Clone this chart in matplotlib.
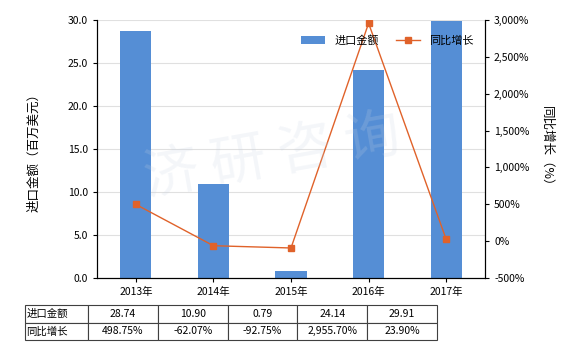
import matplotlib
matplotlib.use("Agg")
import matplotlib.pyplot as plt
import numpy as np

plt.rcParams['font.family'] = ['Noto Sans CJK SC', 'DejaVu Sans']

# data
years = ['2013年', '2014年', '2015年', '2016年', '2017年']
imports = [28.74, 10.90, 0.79, 24.14, 29.91]
growth = [498.75, -62.07, -92.75, 2955.70, 23.90]
imports_txt = ['28.74', '10.90', '0.79', '24.14', '29.91']
growth_txt = ['498.75%', '-62.07%', '-92.75%', '2,955.70%', '23.90%']

bar_color = '#558ED5'
line_color = '#E0622A'

fig = plt.figure(figsize=(5.8, 3.5), dpi=100)
ax = fig.add_axes([97/580, 72/350, 388/580, 258/350])
x = np.arange(len(years))

ax.bar(x, imports, width=0.4, color=bar_color, zorder=2, label='进口金额')
ax.set_xlim(-0.5, len(years) - 0.5)
ax.set_ylim(0, 30)
ax.set_yticks(np.arange(0, 30.1, 5))
ax.set_yticklabels(['%.1f' % v for v in np.arange(0, 30.1, 5)])
ax.set_xticks(x)
ax.set_xticklabels(years)
ax.grid(axis='y', color='#e0e0e0', linewidth=0.8, zorder=0)
ax.set_ylabel('进口金额（百万美元）', fontsize=9, labelpad=20)
ax.tick_params(labelsize=7.5, length=3)
ax.spines['top'].set_visible(False)

ax2 = ax.twinx()
ax2.plot(x, growth, color=line_color, marker='s', markersize=4, linewidth=1,
         label='同比增长', zorder=3)
ax2.set_ylim(-500, 3000)
ax2.set_yticks(np.arange(-500, 3001, 500))
ax2.set_yticklabels(['{:,}%'.format(int(v)) for v in np.arange(-500, 3001, 500)])
ax2.tick_params(labelsize=7.5, length=3)
ax2.spines['top'].set_visible(False)
ax2.set_ylabel('同比增长（%）', fontsize=9, rotation=270, labelpad=17)

# watermark
fig.text(0.47, 0.55, '济 研 咨 询', fontsize=40, color='#c8d4e4', alpha=0.2,
         ha='center', va='center', rotation=10, zorder=0)

h1, l1 = ax.get_legend_handles_labels()
h2, l2 = ax2.get_legend_handles_labels()
ax2.legend(h1 + h2, l1 + l2, loc='upper left', bbox_to_anchor=(0.5, 0.98),
           ncol=2, frameon=False, fontsize=8, handlelength=2.2, columnspacing=1.5)

# table below
cells = [['进口金额'] + imports_txt, ['同比增长'] + growth_txt]
tb = ax.table(cellText=cells, cellLoc='center',
              colWidths=[63/412] + [69.8/412] * 5,
              bbox=[(25-97)/388, (278-340)/258, 412/388, 35/258])
tb.auto_set_font_size(False)
tb.set_fontsize(7.5)
for (r, c), cell in tb.get_celld().items():
    cell.set_edgecolor('#404040')
    cell.set_linewidth(0.8)
    if c == 0:
        cell.set_text_props(ha='left')
        cell.PAD = 0.02

fig.savefig('out.png', dpi=100)
